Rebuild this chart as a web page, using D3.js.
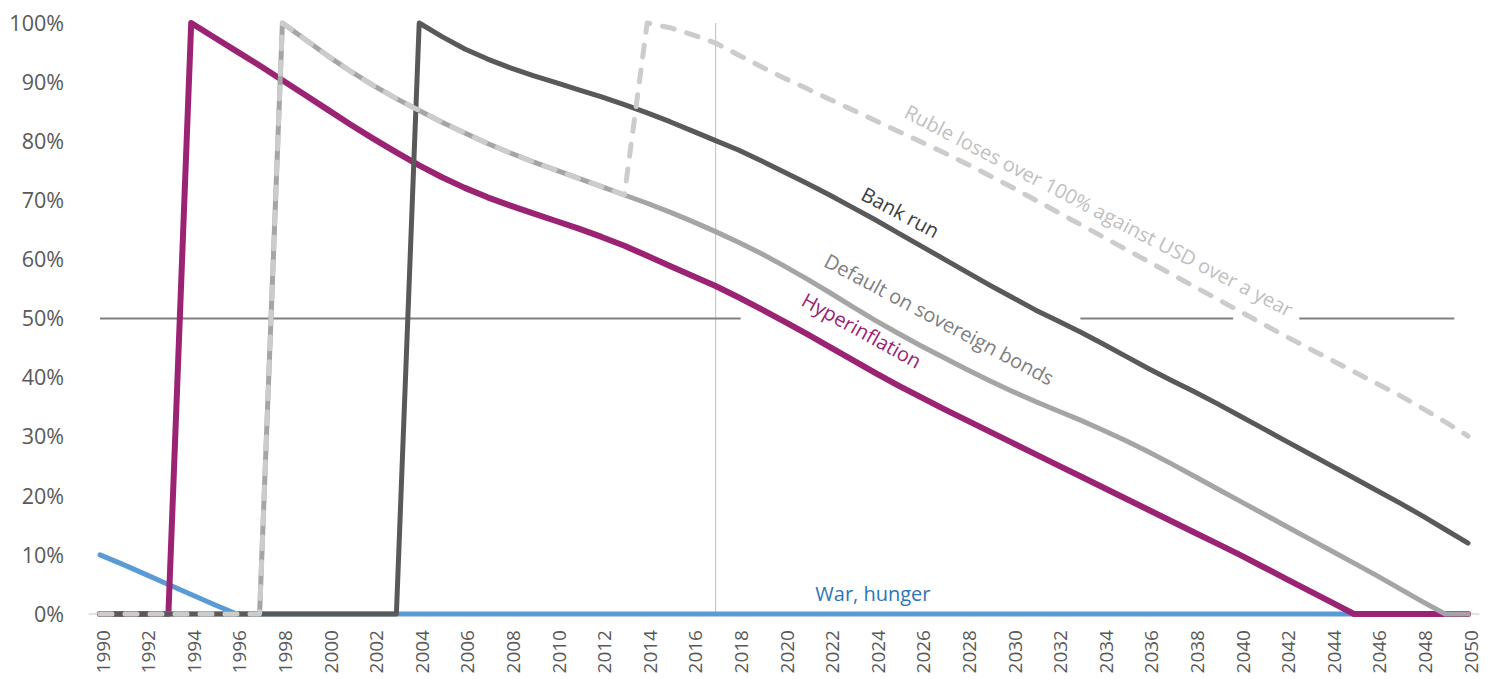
<!DOCTYPE html>
<html>
<head>
<meta charset="utf-8">
<script src="https://cdn.jsdelivr.net/npm/d3@7"></script>
<style>
  body { margin: 0; background: #fff; }
  svg { display: block; font-family: "Open Sans", "Noto Sans", sans-serif; }
</style>
</head>
<body>
<svg id="chart" width="1494" height="679"></svg>
<script>
"use strict"

// ======================================================================
// data: one value per year, 1990 .. 2050 (percent)
const years = d3.range(1990, 2051);

const warHunger = [10, 8.4, 6.7, 5.0, 3.3, 1.6, 0,
  0, 0, 0, 0, 0, 0, 0, 0, 0, 0, 0, 0, 0, 0, 0, 0, 0, 0, 0, 0, 0, 0, 0, 0,
  0, 0, 0, 0, 0, 0, 0, 0, 0, 0, 0, 0, 0, 0, 0, 0, 0, 0, 0, 0, 0, 0, 0, 0,
  0, 0, 0, 0, 0, 0];

const hyperinflation = [0, 0, 0, 0,
  100, 97.6, 95.2, 92.8, 90.3, 87.8, 85.3, 82.8, 80.4, 78.1,
  75.9, 73.9, 72.1, 70.5, 69.1, 67.8, 66.5, 65.2, 63.8, 62.3,
  60.6, 58.9, 57.2, 55.5, 53.6, 51.6, 49.5, 47.4, 45.2, 43.0,
  40.8, 38.7, 36.7, 34.7, 32.8, 30.9, 29.0, 27.1, 25.2, 23.3,
  21.4, 19.5, 17.6, 15.7, 13.8, 11.9, 10.0, 8.0, 6.0, 4.0,
  2.0, 0, 0, 0, 0, 0, 0];

const bankRun = [0, 0, 0, 0, 0, 0, 0, 0, 0, 0, 0, 0, 0, 0,
  100, 97.7, 95.6, 93.9, 92.4, 91.1, 89.9, 88.7, 87.5, 86.2,
  84.8, 83.3, 81.7, 80.1, 78.5, 76.7, 74.8, 72.9, 70.9, 68.8,
  66.7, 64.5, 62.3, 60.1, 57.9, 55.7, 53.6, 51.5, 49.6, 47.7,
  45.7, 43.6, 41.5, 39.5, 37.6, 35.6, 33.5, 31.4, 29.3, 27.2,
  25.1, 23.0, 20.9, 18.8, 16.6, 14.3, 12.0];

const sovereignDefault = [0, 0, 0, 0, 0, 0, 0, 0,
  100, 97.2, 94.4, 91.8, 89.4, 87.2, 85.2, 83.2, 81.4, 79.6,
  78.0, 76.5, 75.1, 73.7, 72.3, 70.9, 69.5, 68.0, 66.4, 64.7,
  62.9, 61.0, 58.9, 56.7, 54.4, 52.0, 49.7, 47.5, 45.4, 43.4,
  41.4, 39.5, 37.7, 36.0, 34.4, 32.8, 31.1, 29.3, 27.4, 25.4,
  23.3, 21.2, 19.1, 17.0, 14.9, 12.8, 10.7, 8.6, 6.5, 4.3,
  2.1, 0, 0];

const rubleLoss = [0, 0, 0, 0, 0, 0, 0, 0,
  100, 97.2, 94.4, 91.8, 89.4, 87.2, 85.2, 83.2, 81.4, 79.6,
  78.0, 76.5, 75.1, 73.7, 72.3, 70.9,
  100, 99.2, 98.0, 96.6, 94.6, 92.6, 90.7, 88.9, 87.1, 85.3,
  83.5, 81.7, 79.9, 78.1, 76.2, 74.2, 72.2, 70.1, 68.0, 65.9,
  63.8, 61.7, 59.6, 57.5, 55.4, 53.3, 51.2, 49.1, 47.0, 45.0,
  43.0, 41.0, 39.0, 37.0, 34.8, 32.5, 30.1];

// y tick labels and x tick years
const yTicks = d3.range(0, 101, 10);
const xTicks = d3.range(1990, 2051, 2);

// the 50% reference line is broken where the labels sit (start year, end year)
const halfLineSegments = [[1990, 2018.1], [2033, 2039.7], [2042.6, 2049.4]];
const halfLineValue = 50;
// vertical marker for "today"
const markerYear = 2017;

// labels: text, anchor year, anchor value, angle
const labelText  = ["Bank run", "Ruble loses over 100% against USD over a year",
                    "Default on sovereign bonds", "Hyperinflation", "War, hunger"];
const labelYear  = [2025.1, 2033.8, 2026.8, 2023.4, 2023.9];
const labelValue = [67.9, 68.2, 49.8, 47.9, 3.4];
const labelAngle = [28, 27.5, 28, 29, 0];

// ======================================================================
const svg = d3.select("#chart");

const x = d3.scaleLinear().domain([1990, 2050]).range([100, 1468]);
const y = d3.scaleLinear().domain([0, 100]).range([614, 23]);

// y axis labels (no axis line)
svg.append("g")
  .selectAll("text")
  .data(yTicks)
  .enter().append("text")
    .attr("x", 64)
    .attr("y", d => y(d))
    .attr("dy", "0.36em")
    .attr("text-anchor", "end")
    .style("font-size", "21.5px")
    .style("fill", "#595959")
    .text(d => d + "%");

// x axis labels, rotated
svg.append("g")
  .selectAll("text")
  .data(xTicks)
  .enter().append("text")
    .attr("transform", d => `translate(${x(d) + 3},630) rotate(-90)`)
    .attr("dy", "0.35em")
    .attr("text-anchor", "end")
    .style("font-size", "19px")
    .style("fill", "#595959")
    .text(d => d);

// baseline
svg.append("line")
  .attr("x1", x(1989.5)).attr("x2", x(2050.5))
  .attr("y1", y(0)).attr("y2", y(0))
  .attr("stroke", "#d9d9d9")
  .attr("stroke-width", 1.5);

// vertical marker
svg.append("line")
  .attr("x1", x(markerYear)).attr("x2", x(markerYear))
  .attr("y1", y(100)).attr("y2", y(0))
  .attr("stroke", "#c8c8c8")
  .attr("stroke-width", 1.2);

// 50% line
svg.append("g")
  .selectAll("line")
  .data(halfLineSegments)
  .enter().append("line")
    .attr("x1", d => x(d[0])).attr("x2", d => x(d[1]))
    .attr("y1", y(halfLineValue)).attr("y2", y(halfLineValue))
    .attr("stroke", "#808080")
    .attr("stroke-width", 2);

// series lines, bottom to top
const line = d3.line()
  .x((d, i) => x(years[i]))
  .y(d => y(d));

const series = [
  {values: warHunger,        color: "#5b9bd5", width: 5, dash: null},
  {values: hyperinflation,   color: "#9b2373", width: 6, dash: null},
  {values: sovereignDefault, color: "#a5a5a5", width: 5, dash: null},
  {values: bankRun,          color: "#595959", width: 5, dash: null},
  {values: rubleLoss,        color: "#cccccc", width: 5, dash: "12,13"}
];

svg.append("g")
  .selectAll("path")
  .data(series)
  .enter().append("path")
    .attr("d", d => line(d.values))
    .attr("fill", "none")
    .attr("stroke", d => d.color)
    .attr("stroke-width", d => d.width)
    .attr("stroke-dasharray", d => d.dash)
    .attr("stroke-linejoin", "round")
    .attr("stroke-linecap", "round");

// labels
const labelColor = ["#404040", "#bfbfbf", "#7f7f7f", "#9b2373", "#2e75b6"];
svg.append("g")
  .selectAll("text")
  .data(labelText)
  .enter().append("text")
    .attr("transform", (d, i) =>
      `translate(${x(labelYear[i])},${y(labelValue[i])}) rotate(${labelAngle[i]})`)
    .attr("dy", "0.35em")
    .attr("text-anchor", "middle")
    .style("font-size", "20px")
    .style("fill", (d, i) => labelColor[i])
    .text(d => d);
</script>
</body>
</html>
